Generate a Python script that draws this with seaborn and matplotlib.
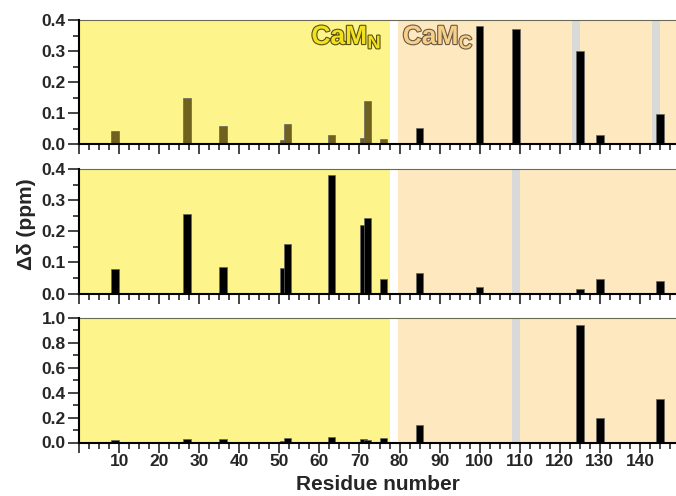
import matplotlib
matplotlib.use("Agg")
import matplotlib.pyplot as plt
import matplotlib.patheffects as pe
from matplotlib.ticker import FixedLocator, MultipleLocator, FuncFormatter
import seaborn as sns
import pandas as pd

# ---------------- data ----------------
residues_p1 = [9, 27, 36, 51, 52, 63, 71, 72, 76, 85, 100, 109, 125, 130, 145]
shift_p1 = [0.042, 0.151, 0.059, 0.014, 0.065, 0.030, 0.022, 0.140, 0.018,
            0.052, 0.381, 0.370, 0.300, 0.032, 0.098]
residues_p2 = [9, 27, 36, 51, 52, 63, 71, 72, 76, 85, 100, 125, 130, 145]
shift_p2 = [0.080, 0.254, 0.086, 0.082, 0.159, 0.382, 0.219, 0.243, 0.048,
            0.066, 0.020, 0.014, 0.046, 0.041]
residues_p3 = [9, 27, 36, 51, 52, 63, 71, 72, 76, 85, 125, 130, 145]
shift_p3 = [0.020, 0.030, 0.028, 0.010, 0.035, 0.043, 0.025, 0.022, 0.040,
            0.142, 0.941, 0.196, 0.351]
missing_p1 = [124, 144]
missing_p2 = [109]
missing_p3 = [109]
ymax = [0.4, 0.4, 1.0]
ymajor = [0.1, 0.1, 0.2]
yminor = [0.05, 0.05, 0.1]
xtick_values = list(range(0, 150, 10))
domain_N = (0, 77.5)
domain_C = (79.5, 149)

# ---------------- style ----------------
sns.set_style("ticks")
plt.rcParams['font.family'] = ['Liberation Sans', 'DejaVu Sans']
plt.rcParams['font.weight'] = 'bold'
plt.rcParams['mathtext.fontset'] = 'custom'
plt.rcParams['mathtext.rm'] = 'Liberation Sans:bold'
plt.rcParams['mathtext.bf'] = 'Liberation Sans:bold'

YELLOW = '#FDF48C'
ORANGE = '#FEE8C0'
GRAY = '#D9D9D9'
OLIVE = '#7C6C10'

fig = plt.figure(figsize=(6.76, 4.96), dpi=100)
left = 79 / 676
width = 1 - left
tops = [20, 169, 318]
h = 124.5
axes = []
for t in tops:
    axes.append(fig.add_axes([left, 1 - (t + h) / 496, width, h / 496]))

panels = [
    (residues_p1, shift_p1, missing_p1, True),
    (residues_p2, shift_p2, missing_p2, False),
    (residues_p3, shift_p3, missing_p3, False),
]

for i, (ax, (res, sh, miss, olive)) in enumerate(zip(axes, panels)):
    ax.set_facecolor('white')
    ax.axvspan(*domain_N, color=YELLOW, lw=0, zorder=0)
    ax.axvspan(*domain_C, color=ORANGE, lw=0, zorder=0)
    for m in miss:
        ax.axvspan(m - 0.95, m + 0.95, color=GRAY, lw=0, zorder=0.5)
    df = pd.DataFrame({'residue': res, 'shift': sh})
    df['domain'] = ['N' if r < 78 else 'C' for r in res]
    pal = {'N': OLIVE if olive else 'black', 'C': 'black'}
    sns.barplot(data=df, x='residue', y='shift', hue='domain', palette=pal,
                hue_order=['N', 'C'], dodge=False, native_scale=True,
                width=1.9, errorbar=None, legend=False, ax=ax,
                edgecolor='#666666', linewidth=0.5, zorder=2)
    ax.set_xlim(0, 149)
    ax.set_ylim(0, ymax[i])
    ax.set_xlabel('')
    ax.set_ylabel('')
    ax.yaxis.set_major_locator(MultipleLocator(ymajor[i]))
    ax.yaxis.set_minor_locator(MultipleLocator(yminor[i]))
    ax.yaxis.set_major_formatter(FuncFormatter(lambda v, p: f'{v:.1f}'))
    ax.xaxis.set_major_locator(FixedLocator(xtick_values))
    ax.xaxis.set_minor_locator(MultipleLocator(2.5))
    if i == 2:
        ax.xaxis.set_major_formatter(
            FuncFormatter(lambda v, p: '' if v == 0 else f'{int(v)}'))
    else:
        ax.xaxis.set_major_formatter(FuncFormatter(lambda v, p: ''))
    ax.tick_params(axis='y', which='major', length=8, width=1.2,
                   labelsize=12.5, pad=1.5, direction='out')
    ax.tick_params(axis='y', which='minor', length=4.5, width=1.2, direction='out')
    ax.tick_params(axis='x', which='major', length=7.5, width=1.2,
                   labelsize=12.5, pad=1, direction='out')
    ax.tick_params(axis='x', which='minor', length=4, width=1.2, direction='out')
    for lab in ax.get_xticklabels() + ax.get_yticklabels():
        lab.set_fontweight('bold')
    for s in ['left', 'bottom']:
        ax.spines[s].set_linewidth(1.5)
        ax.spines[s].set_color('black')
        ax.spines[s].set_zorder(5)
    ax.spines['top'].set_visible(True)
    ax.spines['top'].set_linewidth(0.8)
    ax.spines['top'].set_color('#6B6B55')
    ax.spines['right'].set_visible(False)

# domain labels
axes[0].text(58.0, 0.387, r'$\mathrm{CaM}_\mathrm{N}$', fontsize=19,
             color='#F2E11E', va='top', ha='left', zorder=6,
             path_effects=[pe.withStroke(linewidth=1.6, foreground='#5A5010')])
axes[0].text(80.8, 0.387, r'$\mathrm{CaM}_\mathrm{C}$', fontsize=19,
             color='#F9D08A', va='top', ha='left', zorder=6,
             path_effects=[pe.withStroke(linewidth=1.6, foreground='#6A5A45')])

axes[2].set_xlabel('Residue number', fontsize=15, fontweight='bold', labelpad=4)
fig.text(27 / 676, 1 - 224 / 496, 'Δδ (ppm)', rotation=90, fontsize=15,
         fontweight='bold', ha='center', va='center')

fig.savefig('out.png', dpi=100)
